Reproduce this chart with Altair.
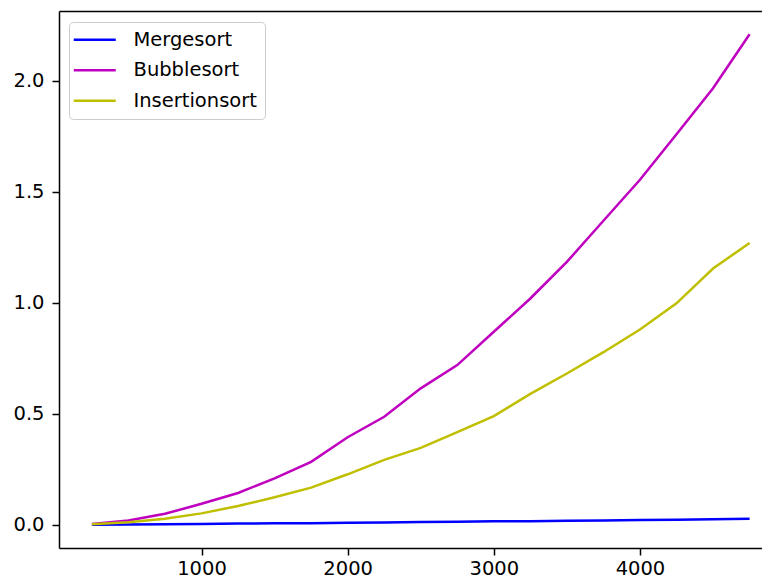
import altair as alt
import pandas as pd

sizes = [250, 500, 750, 1000, 1250, 1500, 1750, 2000, 2250, 2500,
         2750, 3000, 3250, 3500, 3750, 4000, 4250, 4500, 4750]
mergesort = [0.001, 0.002, 0.003, 0.004, 0.006, 0.007, 0.008, 0.010, 0.011, 0.013,
             0.014, 0.016, 0.017, 0.019, 0.020, 0.022, 0.023, 0.025, 0.028]
bubblesort = [0.004, 0.020, 0.050, 0.095, 0.144, 0.210, 0.284, 0.395, 0.487, 0.615,
              0.720, 0.870, 1.020, 1.185, 1.370, 1.555, 1.760, 1.967, 2.210]
insertionsort = [0.003, 0.012, 0.028, 0.052, 0.085, 0.125, 0.168, 0.228, 0.293, 0.347,
                 0.418, 0.490, 0.590, 0.682, 0.778, 0.880, 0.998, 1.155, 1.270]
series_names = ["Mergesort", "Bubblesort", "Insertionsort"]
series_colors = ["#0000ff", "#bf00bf", "#bfbf00"]
x_ticks = [1000, 2000, 3000, 4000]
y_ticks = [0.0, 0.5, 1.0, 1.5, 2.0]

rows = []
for name, vals in zip(series_names, [mergesort, bubblesort, insertionsort]):
    for n, v in zip(sizes, vals):
        rows.append({"n": n, "time": v, "algo": name})
df = pd.DataFrame(rows)

FONT = "DejaVu Sans"
FS = 19.5
xscale = alt.Scale(domain=[25, 4835], nice=False, zero=False)
yscale = alt.Scale(domain=[-0.104, 2.315], nice=False, zero=False)

yaxis = alt.Axis(values=y_ticks, format=".1f", title=None, grid=False,
                 labelPadding=8, tickSize=7)
y_enc = alt.Y("time:Q", scale=yscale, axis=yaxis)

base = alt.Chart(df)
lines = base.mark_line(strokeWidth=2.5, clip=True).encode(
    x=alt.X("n:Q", scale=xscale,
            axis=alt.Axis(values=x_ticks, format="d", title=None, grid=False,
                          labelPadding=4, tickSize=7)),
    y=y_enc,
    color=alt.Color(
        "algo:N",
        scale=alt.Scale(domain=series_names, range=series_colors),
        legend=alt.Legend(
            title=None, orient="none", legendX=10, legendY=11,
            symbolType="M-2.6,0H5.8", symbolSize=100, symbolStrokeWidth=2.5,
            labelFontSize=FS, labelFont=FONT, labelColor="black",
            labelOffset=37, padding=8, rowPadding=9.5,
            strokeColor="#cccccc", fillColor="rgba(255,255,255,0.8)",
            cornerRadius=4,
        ),
    ),
)

top = base.mark_line(opacity=0).encode(
    x=alt.X("n:Q", scale=xscale,
            axis=alt.Axis(orient="top", labels=False, ticks=False, domain=True,
                          grid=False, title=None)),
    y=y_enc,
    detail="algo:N",
)

chart = (
    alt.layer(lines, top)
    .resolve_axis(x="independent")
    .properties(
        width=703, height=537,
        autosize=alt.AutoSizeParams(type="none"),
        padding={"left": 51, "top": 3, "right": 0, "bottom": 40},
    )
    .configure_view(strokeWidth=0, strokeOpacity=0)
    .configure_axis(
        domainColor="black", domainWidth=1.5, tickColor="black", tickWidth=1.5,
        labelFont=FONT, labelFontSize=FS, labelColor="black",
    )
)

chart.save("out.html", embed_options={"renderer": "svg", "actions": False})
